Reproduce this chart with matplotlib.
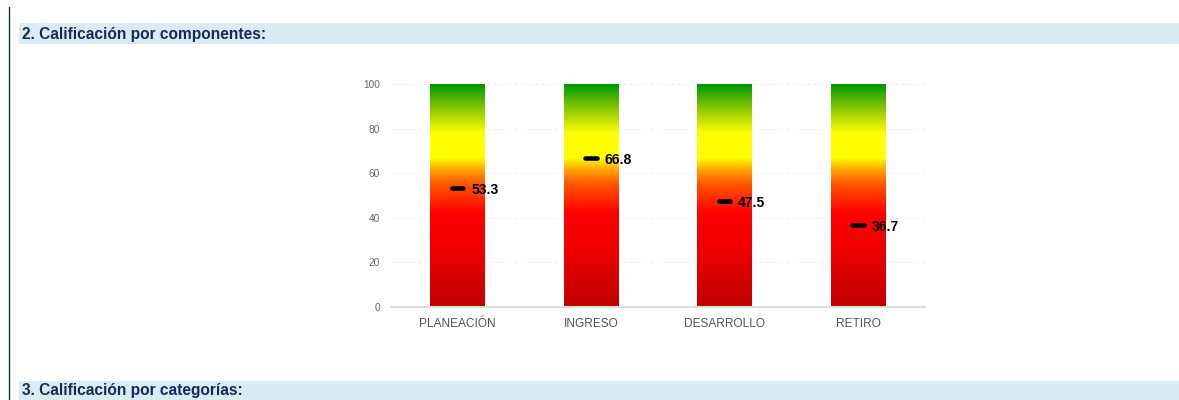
import matplotlib.pyplot as plt
import numpy as np
from matplotlib.colors import LinearSegmentedColormap
from matplotlib.lines import Line2D
from matplotlib.patches import Rectangle

plt.rcParams['font.family'] = ['Liberation Sans', 'DejaVu Sans']

# Scores per component (scale 0-100)
componentes = ['PLANEACIÓN', 'INGRESO', 'DESARROLLO', 'RETIRO']
escala = [100, 100, 100, 100]
calificacion = [53.3, 66.8, 47.5, 36.7]
y_ticks = [0, 20, 40, 60, 80, 100]

titulo_seccion = '2. Calificación por componentes:'
titulo_siguiente = '3. Calificación por categorías:'

navy = '#132a5e'
banda = '#daecf3'

# red -> orange -> yellow -> green, bottom to top
semaforo = LinearSegmentedColormap.from_list('semaforo', [
    (0.00, '#bf0000'),
    (0.25, '#ee0000'),
    (0.42, '#ff0000'),
    (0.55, '#ff5500'),
    (0.62, '#ffaa00'),
    (0.67, '#ffff00'),
    (0.78, '#ffff00'),
    (0.88, '#99cc00'),
    (1.00, '#009900'),
])

fig = plt.figure(figsize=(11.79, 4.0), dpi=100)

# page decoration: left rule and section header bands
fig.add_artist(Line2D([9 / 1179, 9 / 1179], [0, 393 / 400], color=navy, lw=1.0))
fig.add_artist(Rectangle((19 / 1179, 356 / 400), 1 - 19 / 1179, 21 / 400,
                         transform=fig.transFigure, color=banda, lw=0))
fig.add_artist(Rectangle((19 / 1179, 0), 1 - 19 / 1179, 19 / 400,
                         transform=fig.transFigure, color=banda, lw=0))
fig.text(22 / 1179, 366 / 400, titulo_seccion, color=navy, fontsize=11.2,
         fontweight='bold', va='center', ha='left')
fig.text(22 / 1179, 9 / 400, titulo_siguiente, color=navy, fontsize=11.2,
         fontweight='bold', va='center', ha='left')

ax = fig.add_axes([391 / 1179, 93 / 400, 534 / 1179, 223 / 400])

x = np.arange(len(componentes))
bars = ax.bar(x, escala, width=0.41, color='none', edgecolor='none')

gradiente = np.linspace(0, 1, 256).reshape(-1, 1)
for rect in bars:
    x0 = rect.get_x()
    x1 = x0 + rect.get_width()
    im = ax.imshow(gradiente, extent=[x0, x1, 0, rect.get_height()], origin='lower',
                   aspect='auto', cmap=semaforo, zorder=2)
    im.set_clip_path(rect)

for i, v in enumerate(calificacion):
    ax.plot([i - 0.045, i + 0.04], [v, v], color='black', lw=3.3,
            solid_capstyle='round', zorder=4)
    ax.text(i + 0.1, v - 0.8, f'{v:.1f}', color='black', fontsize=10,
            fontweight='bold', va='center', ha='left', zorder=5)

ax.set_xlim(-0.5, len(componentes) - 0.5)
ax.set_ylim(0, 100)
ax.set_xticks(x)
ax.set_xticklabels(componentes, fontsize=8.6, color='#555555')
ax.set_yticks(y_ticks)
ax.set_yticklabels([str(t) for t in y_ticks], fontsize=7.3, color='#666666')
ax.tick_params(axis='both', length=0)
ax.tick_params(axis='x', pad=8)
ax.tick_params(axis='y', pad=8)

ax.set_axisbelow(True)
ax.yaxis.grid(True, color='#f0f0f0', lw=0.7, linestyle=(0, (4, 3)))
for side in ['top', 'right', 'left']:
    ax.spines[side].set_visible(False)
ax.spines['bottom'].set_color('#dddddd')
ax.spines['bottom'].set_linewidth(1.5)
ax.spines['bottom'].set_zorder(3)

fig.savefig('out.png', dpi=100)
